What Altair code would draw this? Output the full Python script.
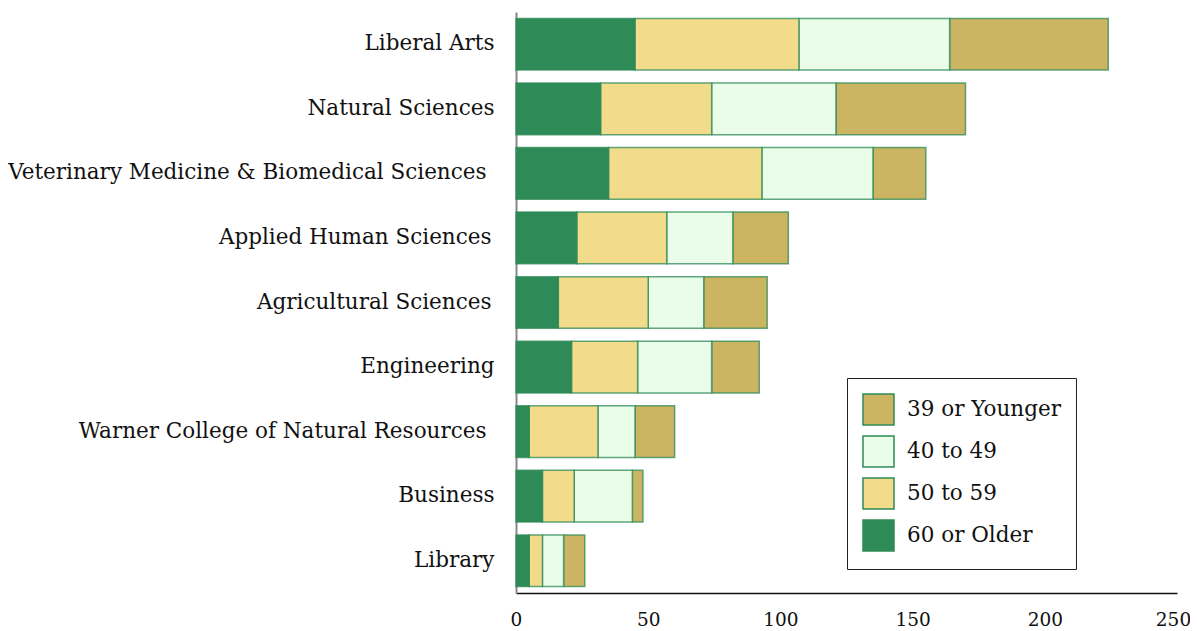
import altair as alt
import pandas as pd

colleges = [
    "Liberal Arts",
    "Natural Sciences",
    "Veterinary Medicine & Biomedical Sciences",
    "Applied Human Sciences",
    "Agricultural Sciences",
    "Engineering",
    "Warner College of Natural Resources",
    "Business",
    "Library",
]
age_groups = ["39 or Younger", "40 to 49", "50 to 59", "60 or Older"]
stack_rank = [3, 2, 1, 0]  # 60 or Older drawn first (leftmost)

age_60_plus = [45, 32, 35, 23, 16, 21, 5, 10, 5]
age_50_59 = [62, 42, 58, 34, 34, 25, 26, 12, 5]
age_40_49 = [57, 47, 42, 25, 21, 28, 14, 22, 8]
age_39_under = [60, 49, 20, 21, 24, 18, 15, 4, 8]

colors = ["#CBB462", "#EAFDE9", "#F2DC8C", "#2E8A56"]
x_ticks = [0, 50, 100, 150, 200, 250]

series = {
    "39 or Younger": age_39_under,
    "40 to 49": age_40_49,
    "50 to 59": age_50_59,
    "60 or Older": age_60_plus,
}
rows = []
for g, rank in zip(age_groups, stack_rank):
    for c, v in zip(colleges, series[g]):
        rows.append({"College": c, "Age": g, "Count": v, "Rank": rank})
df = pd.DataFrame(rows)

FONT = "DejaVu Serif"

y_label_padding = {
    "condition": [
        {
            "test": "datum.value == 'Veterinary Medicine & Biomedical Sciences' || "
                    "datum.value == 'Warner College of Natural Resources'",
            "value": 30,
        },
        {
            "test": "datum.value == 'Applied Human Sciences' || "
                    "datum.value == 'Agricultural Sciences'",
            "value": 25,
        },
    ],
    "value": 22,
}
x_label_offset = {"condition": {"test": "datum.value == 250", "value": -4}, "value": 0}

chart = alt.Chart(df).mark_bar(
    stroke="#2E8A56", strokeWidth=1.5, strokeOpacity=0.75
).encode(
    y=alt.Y(
        "College:N",
        sort=colleges,
        scale=alt.Scale(paddingInner=0.2, paddingOuter=0.1),
        axis=alt.Axis(
            title=None, ticks=False, domain=True, domainColor="#888888",
            domainWidth=2, labelPadding=y_label_padding, labelFont=FONT,
            labelFontSize=21.5, labelColor="#111111", labelLimit=600,
        ),
    ),
    x=alt.X(
        "Count:Q",
        stack="zero",
        scale=alt.Scale(domain=[0, 250], nice=False),
        axis=alt.Axis(
            title=None, values=x_ticks, ticks=False, grid=False, domain=True,
            domainColor="#111111", domainWidth=1.5, labelPadding=17,
            labelFont=FONT, labelFontSize=18.5, labelColor="#111111",
            labelFlush=False, labelOverlap=False, labelOffset=x_label_offset,
        ),
    ),
    color=alt.Color(
        "Age:N",
        scale=alt.Scale(domain=age_groups, range=colors),
        legend=alt.Legend(
            title=None, orient="none", legendX=331, legendY=366,
            padding=15, strokeColor="#222222", fillColor="white",
            symbolType="square", symbolSize=961, symbolStrokeColor="#2E8A56",
            symbolStrokeWidth=1.5, symbolOpacity=1, rowPadding=5, labelOffset=12,
            labelFont=FONT, labelFontSize=21.5, labelColor="#111111",
        ),
    ),
    order=alt.Order("Rank:Q", sort="ascending"),
).properties(
    width=661,
    height=581,
    autosize=alt.AutoSizeParams(type="none"),
    padding={"left": 508, "top": 4, "right": 13, "bottom": 38},
).configure_view(stroke=None)

chart.save("out.html", embed_options={"renderer": "svg", "actions": False})
